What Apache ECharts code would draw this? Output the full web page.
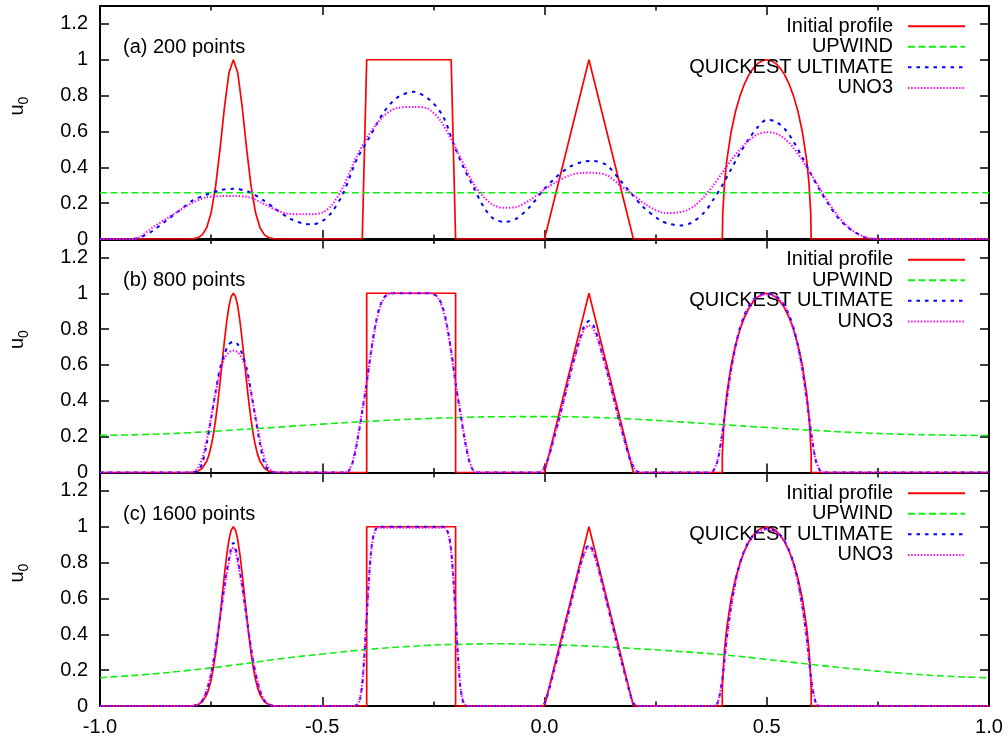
<!DOCTYPE html>
<html><head><meta charset="utf-8">
<script src="https://cdn.jsdelivr.net/npm/echarts@6/dist/echarts.min.js"></script>
<style>html,body{margin:0;padding:0;background:#fff}#c{width:1007px;height:740px}</style>
</head><body><div id="c"></div>
<script>
// ---------------- data ----------------
const seriesNames = ['Initial profile', 'UPWIND', 'QUICKEST ULTIMATE', 'UNO3'];
const panelLabels = ['(a) 200 points', '(b) 800 points', '(c) 1600 points'];
const xTickValues = [-1, -0.5, 0, 0.5, 1];
const yTickValues = [0, 0.2, 0.4, 0.6, 0.8, 1, 1.2];

// initial profile, as drawn on the 200-point grid
const initCoarse = [[-1,0],[-0.8,0],[-0.79,0.002],[-0.78,0.007],[-0.77,0.023],[-0.76,0.063],[-0.75,0.146],[-0.74,0.292],[-0.73,0.5],[-0.72,0.735],[-0.71,0.926],[-0.7,1],[-0.69,0.926],[-0.68,0.735],[-0.67,0.5],[-0.66,0.292],[-0.65,0.146],[-0.64,0.063],[-0.63,0.023],[-0.62,0.007],[-0.61,0.002],[-0.6,0],
 [-0.41,0],[-0.4,1],[-0.21,1],[-0.2,0],[0,0],[0.1,1],[0.2,0],
 [0.4,0],[0.401,0.141],[0.405,0.312],[0.41,0.436],[0.42,0.6],[0.43,0.714],[0.44,0.8],[0.45,0.866],[0.46,0.917],[0.47,0.954],[0.48,0.98],[0.49,0.995],[0.5,1],[0.51,0.995],[0.52,0.98],[0.53,0.954],[0.54,0.917],[0.55,0.866],[0.56,0.8],[0.57,0.714],[0.58,0.6],[0.59,0.436],[0.595,0.312],[0.599,0.141],[0.6,0],[1,0]];

// initial profile, fine grid
const initFine = [[-1,0],[-0.8,0],[-0.79,0.002],[-0.78,0.007],[-0.77,0.023],[-0.76,0.063],[-0.755,0.097],[-0.75,0.146],[-0.745,0.21],[-0.74,0.292],[-0.735,0.389],[-0.73,0.5],[-0.725,0.618],[-0.72,0.735],[-0.715,0.841],[-0.71,0.926],[-0.705,0.981],[-0.7,1],[-0.695,0.981],[-0.69,0.926],[-0.685,0.841],[-0.68,0.735],[-0.675,0.618],[-0.67,0.5],[-0.665,0.389],[-0.66,0.292],[-0.655,0.21],[-0.65,0.146],[-0.645,0.097],[-0.64,0.063],[-0.63,0.023],[-0.62,0.007],[-0.61,0.002],[-0.6,0],
 [-0.4,0],[-0.4,1],[-0.2,1],[-0.2,0],[0,0],[0.1,1],[0.2,0],
 [0.4,0],[0.4,0.1],[0.401,0.141],[0.403,0.243],[0.405,0.312],[0.41,0.436],[0.42,0.6],[0.43,0.714],[0.44,0.8],[0.45,0.866],[0.46,0.917],[0.47,0.954],[0.48,0.98],[0.49,0.995],[0.5,1],[0.51,0.995],[0.52,0.98],[0.53,0.954],[0.54,0.917],[0.55,0.866],[0.56,0.8],[0.57,0.714],[0.58,0.6],[0.59,0.436],[0.595,0.312],[0.597,0.243],[0.599,0.141],[0.6,0.1],[0.6,0],[1,0]];

// (a) 200 points
const upwind200 = [[-1,0.258],[0,0.258],[1,0.258]];
const quick200 = [[-1,0],[-0.93,0],[-0.91,0.008],[-0.88,0.048],[-0.85,0.105],[-0.82,0.161],[-0.79,0.217],[-0.76,0.248],[-0.73,0.272],[-0.70,0.280],[-0.665,0.263],[-0.633,0.217],[-0.603,0.164],[-0.573,0.114],[-0.543,0.086],[-0.52,0.082],[-0.497,0.105],[-0.478,0.151],[-0.453,0.254],[-0.423,0.44],[-0.393,0.571],[-0.363,0.702],[-0.333,0.786],[-0.295,0.821],[-0.258,0.776],[-0.228,0.683],[-0.205,0.534],[-0.183,0.403],[-0.16,0.291],[-0.137,0.179],[-0.115,0.114],[-0.089,0.095],[-0.063,0.114],[-0.033,0.179],[-0.003,0.272],[0.027,0.347],[0.057,0.403],[0.087,0.431],[0.11,0.435],[0.14,0.412],[0.17,0.328],[0.192,0.263],[0.222,0.179],[0.26,0.105],[0.28,0.085],[0.305,0.076],[0.33,0.09],[0.36,0.15],[0.38,0.22],[0.40,0.30],[0.42,0.39],[0.44,0.48],[0.46,0.56],[0.48,0.625],[0.50,0.665],[0.52,0.655],[0.54,0.615],[0.56,0.545],[0.58,0.455],[0.60,0.36],[0.62,0.27],[0.64,0.19],[0.66,0.12],[0.68,0.07],[0.70,0.035],[0.72,0.01],[0.74,0],[1,0]];
const uno200 = [[-1,0],[-0.93,0],[-0.913,0.008],[-0.88,0.067],[-0.85,0.114],[-0.82,0.161],[-0.79,0.205],[-0.76,0.233],[-0.73,0.239],[-0.70,0.24],[-0.663,0.232],[-0.633,0.198],[-0.603,0.161],[-0.58,0.142],[-0.543,0.138],[-0.52,0.138],[-0.497,0.151],[-0.478,0.19],[-0.453,0.291],[-0.423,0.459],[-0.393,0.59],[-0.363,0.683],[-0.333,0.73],[-0.295,0.737],[-0.265,0.73],[-0.235,0.664],[-0.205,0.534],[-0.183,0.422],[-0.16,0.31],[-0.137,0.235],[-0.115,0.189],[-0.089,0.174],[-0.063,0.179],[-0.033,0.217],[-0.003,0.272],[0.027,0.319],[0.057,0.356],[0.087,0.369],[0.11,0.369],[0.14,0.356],[0.17,0.30],[0.20,0.245],[0.23,0.189],[0.26,0.151],[0.28,0.145],[0.30,0.148],[0.32,0.16],[0.34,0.19],[0.36,0.24],[0.38,0.30],[0.40,0.37],[0.42,0.44],[0.44,0.50],[0.46,0.55],[0.48,0.585],[0.50,0.595],[0.52,0.59],[0.54,0.56],[0.56,0.51],[0.58,0.44],[0.60,0.36],[0.62,0.28],[0.64,0.20],[0.66,0.13],[0.68,0.075],[0.70,0.035],[0.72,0.012],[0.74,0.002],[0.76,0],[1,0]];

// (b) 800 points
const upwind800 = [[-1,0.207],[-0.9,0.212],[-0.8,0.222],[-0.7,0.237],[-0.6,0.253],[-0.5,0.27],[-0.4,0.285],[-0.3,0.297],[-0.2,0.306],[-0.1,0.311],[0,0.312],[0.1,0.308],[0.2,0.298],[0.3,0.283],[0.4,0.267],[0.5,0.251],[0.6,0.236],[0.7,0.223],[0.8,0.214],[0.9,0.209],[1,0.206]];
const quick800 = [[-1,0],[-0.8,0],[-0.785,0.003],[-0.78,0.01],[-0.77,0.05],[-0.76,0.16],[-0.75,0.30],[-0.74,0.45],[-0.73,0.58],[-0.72,0.66],[-0.71,0.715],[-0.70,0.73],[-0.69,0.715],[-0.68,0.66],[-0.67,0.58],[-0.66,0.45],[-0.65,0.30],[-0.64,0.16],[-0.63,0.05],[-0.62,0.01],[-0.615,0.003],[-0.6,0],
 [-0.45,0],[-0.44,0.01],[-0.43,0.07],[-0.42,0.19],[-0.41,0.34],[-0.40,0.5],[-0.39,0.68],[-0.38,0.83],[-0.37,0.93],[-0.36,0.98],[-0.35,0.995],[-0.34,1.0],[-0.26,1.0],[-0.25,0.995],[-0.24,0.98],[-0.23,0.93],[-0.22,0.83],[-0.21,0.68],[-0.20,0.5],[-0.19,0.34],[-0.18,0.19],[-0.17,0.07],[-0.16,0.01],[-0.15,0],
 [-0.015,0],[-0.005,0.01],[0.0,0.03],[0.01,0.09],[0.02,0.18],[0.03,0.27],[0.04,0.37],[0.05,0.47],[0.06,0.57],[0.07,0.66],[0.08,0.75],[0.09,0.82],[0.10,0.845],[0.11,0.82],[0.12,0.75],[0.13,0.66],[0.14,0.57],[0.15,0.47],[0.16,0.37],[0.17,0.27],[0.18,0.18],[0.19,0.09],[0.20,0.03],[0.205,0.01],[0.215,0],
 [0.37,0],[0.38,0.01],[0.39,0.07],[0.40,0.22],[0.41,0.41],[0.42,0.58],[0.43,0.71],[0.44,0.81],[0.45,0.88],[0.46,0.93],[0.47,0.965],[0.48,0.985],[0.49,0.995],[0.50,1.0],[0.51,0.995],[0.52,0.985],[0.53,0.965],[0.54,0.93],[0.55,0.88],[0.56,0.81],[0.57,0.71],[0.58,0.58],[0.59,0.41],[0.60,0.22],[0.61,0.07],[0.62,0.01],[0.63,0],[1,0]];
const uno800 = [[-1,0],[-0.8,0],[-0.79,0.005],[-0.78,0.025],[-0.77,0.08],[-0.76,0.18],[-0.75,0.31],[-0.74,0.44],[-0.73,0.56],[-0.72,0.635],[-0.71,0.67],[-0.70,0.68],[-0.69,0.67],[-0.68,0.635],[-0.67,0.56],[-0.66,0.44],[-0.65,0.31],[-0.64,0.18],[-0.63,0.08],[-0.62,0.025],[-0.61,0.005],[-0.6,0],
 [-0.45,0],[-0.44,0.012],[-0.43,0.075],[-0.42,0.2],[-0.41,0.35],[-0.40,0.5],[-0.39,0.67],[-0.38,0.82],[-0.37,0.92],[-0.36,0.975],[-0.35,0.995],[-0.34,1.0],[-0.26,1.0],[-0.25,0.995],[-0.24,0.975],[-0.23,0.92],[-0.22,0.82],[-0.21,0.67],[-0.20,0.5],[-0.19,0.35],[-0.18,0.2],[-0.17,0.075],[-0.16,0.012],[-0.15,0],
 [-0.015,0],[-0.005,0.012],[0.0,0.035],[0.01,0.095],[0.02,0.18],[0.03,0.27],[0.04,0.37],[0.05,0.47],[0.06,0.57],[0.07,0.66],[0.08,0.74],[0.09,0.80],[0.10,0.82],[0.11,0.80],[0.12,0.74],[0.13,0.66],[0.14,0.57],[0.15,0.47],[0.16,0.37],[0.17,0.27],[0.18,0.18],[0.19,0.095],[0.20,0.035],[0.205,0.012],[0.215,0],
 [0.37,0],[0.38,0.012],[0.39,0.075],[0.40,0.22],[0.41,0.40],[0.42,0.57],[0.43,0.70],[0.44,0.80],[0.45,0.875],[0.46,0.925],[0.47,0.96],[0.48,0.98],[0.49,0.99],[0.50,0.995],[0.51,0.99],[0.52,0.98],[0.53,0.96],[0.54,0.925],[0.55,0.875],[0.56,0.80],[0.57,0.70],[0.58,0.57],[0.59,0.40],[0.60,0.22],[0.61,0.075],[0.62,0.012],[0.63,0],[1,0]];

// (c) 1600 points
const upwind1600 = [[-1,0.158],[-0.9,0.175],[-0.8,0.199],[-0.7,0.228],[-0.6,0.262],[-0.5,0.29],[-0.4,0.315],[-0.3,0.333],[-0.2,0.344],[-0.1,0.347],[0,0.342],[0.1,0.334],[0.2,0.321],[0.3,0.305],[0.4,0.286],[0.5,0.26],[0.6,0.232],[0.7,0.206],[0.8,0.184],[0.9,0.167],[1,0.158]];
const quick1600 = [[-1,0],[-0.79,0],[-0.78,0.008],[-0.77,0.03],[-0.76,0.085],[-0.75,0.18],[-0.74,0.32],[-0.73,0.49],[-0.72,0.67],[-0.71,0.82],[-0.705,0.88],[-0.70,0.91],[-0.695,0.88],[-0.69,0.82],[-0.68,0.67],[-0.67,0.49],[-0.66,0.32],[-0.65,0.18],[-0.64,0.085],[-0.63,0.03],[-0.62,0.008],[-0.61,0],
 [-0.43,0],[-0.42,0.01],[-0.415,0.04],[-0.41,0.12],[-0.405,0.29],[-0.40,0.5],[-0.395,0.71],[-0.39,0.87],[-0.385,0.95],[-0.38,0.985],[-0.375,1.0],[-0.225,1.0],[-0.22,0.985],[-0.215,0.95],[-0.21,0.87],[-0.205,0.71],[-0.20,0.5],[-0.195,0.29],[-0.19,0.12],[-0.185,0.04],[-0.18,0.01],[-0.17,0],
 [-0.01,0],[0.0,0.015],[0.01,0.09],[0.02,0.185],[0.03,0.28],[0.04,0.38],[0.05,0.48],[0.06,0.58],[0.07,0.68],[0.08,0.78],[0.09,0.86],[0.10,0.90],[0.11,0.86],[0.12,0.78],[0.13,0.68],[0.14,0.58],[0.15,0.48],[0.16,0.38],[0.17,0.28],[0.18,0.185],[0.19,0.09],[0.20,0.015],[0.21,0],
 [0.38,0],[0.39,0.02],[0.40,0.15],[0.41,0.38],[0.42,0.56],[0.43,0.70],[0.44,0.80],[0.45,0.87],[0.46,0.92],[0.47,0.955],[0.48,0.975],[0.49,0.985],[0.50,0.99],[0.51,0.985],[0.52,0.975],[0.53,0.955],[0.54,0.92],[0.55,0.87],[0.56,0.80],[0.57,0.70],[0.58,0.56],[0.59,0.38],[0.60,0.15],[0.61,0.02],[0.62,0],[1,0]];
const uno1600 = [[-1,0],[-0.79,0],[-0.78,0.009],[-0.77,0.032],[-0.76,0.09],[-0.75,0.185],[-0.74,0.325],[-0.73,0.49],[-0.72,0.66],[-0.71,0.80],[-0.705,0.86],[-0.70,0.885],[-0.695,0.86],[-0.69,0.80],[-0.68,0.66],[-0.67,0.49],[-0.66,0.325],[-0.65,0.185],[-0.64,0.09],[-0.63,0.032],[-0.62,0.009],[-0.61,0],
 [-0.43,0],[-0.42,0.012],[-0.415,0.045],[-0.41,0.13],[-0.405,0.3],[-0.40,0.5],[-0.395,0.70],[-0.39,0.86],[-0.385,0.945],[-0.38,0.98],[-0.375,0.995],[-0.225,0.995],[-0.22,0.98],[-0.215,0.945],[-0.21,0.86],[-0.205,0.70],[-0.20,0.5],[-0.195,0.3],[-0.19,0.13],[-0.185,0.045],[-0.18,0.012],[-0.17,0],
 [-0.01,0],[0.0,0.017],[0.01,0.092],[0.02,0.185],[0.03,0.28],[0.04,0.38],[0.05,0.48],[0.06,0.58],[0.07,0.68],[0.08,0.775],[0.09,0.85],[0.10,0.89],[0.11,0.85],[0.12,0.775],[0.13,0.68],[0.14,0.58],[0.15,0.48],[0.16,0.38],[0.17,0.28],[0.18,0.185],[0.19,0.092],[0.20,0.017],[0.21,0],
 [0.38,0],[0.39,0.022],[0.40,0.15],[0.41,0.37],[0.42,0.55],[0.43,0.69],[0.44,0.79],[0.45,0.865],[0.46,0.915],[0.47,0.95],[0.48,0.97],[0.49,0.98],[0.50,0.985],[0.51,0.98],[0.52,0.97],[0.53,0.95],[0.54,0.915],[0.55,0.865],[0.56,0.79],[0.57,0.69],[0.58,0.55],[0.59,0.37],[0.60,0.15],[0.61,0.022],[0.62,0],[1,0]];

// ---------------- chart ----------------
const panels = [
  [initCoarse, upwind200, quick200, uno200],
  [initFine, upwind800, quick800, uno800],
  [initFine, upwind1600, quick1600, uno1600]
];
const FONT = '"Liberation Sans", Arial, sans-serif';
const FS = 20;
const gridTop = [6, 239.5, 473];
const gridH = 233;
const lineStyles = [
  {color: '#ff0000', width: 1.7, type: 'solid'},
  {color: '#11ee11', width: 1.6, type: [7, 3.5]},
  {color: '#0000ff', width: 2, type: [3.5, 5]},
  {color: '#ff00ff', width: 2, type: [1.4, 1.8]}
];
const smoothFlags = [false, true, 0.3, 0.3];

const grids = [], xAxes = [], yAxes = [], series = [], legends = [], graphics = [];
panels.forEach((p, i) => {
  grids.push({left: 100, right: 18, top: gridTop[i], height: gridH, show: false});
  const axLine = {show: true, onZero: false, lineStyle: {color: '#000', width: 2}};
  const tick = {show: true, inside: true, length: 9, lineStyle: {color: '#000', width: 1.5}};
  const minor = {show: true, splitNumber: 2, length: 4.5, lineStyle: {color: '#000', width: 1.5}};
  xAxes.push({type: 'value', gridIndex: i, position: 'bottom', min: -1, max: 1, interval: 0.5,
    axisLine: axLine, axisTick: tick, minorTick: minor, splitLine: {show: false},
    axisLabel: {show: i === 2, margin: 11, color: '#000', fontSize: FS, fontFamily: FONT,
      formatter: v => xTickValues.some(t => Math.abs(t - v) < 1e-9) ? v.toFixed(1) : ''}});
  xAxes.push({type: 'value', gridIndex: i, position: 'top', min: -1, max: 1, interval: 0.5,
    axisLine: axLine, axisTick: tick, minorTick: minor, splitLine: {show: false}, axisLabel: {show: false}});
  yAxes.push({type: 'value', gridIndex: i, position: 'left', min: 0, max: 1.3, interval: 0.2,
    axisLine: axLine, axisTick: tick, splitLine: {show: false},
    axisLabel: {margin: 12, color: '#000', fontSize: FS, fontFamily: FONT,
      formatter: v => yTickValues.some(t => Math.abs(t - v) < 1e-9) ? String(+v.toFixed(1)) : ''}});
  yAxes.push({type: 'value', gridIndex: i, position: 'right', min: 0, max: 1.3, interval: 0.2,
    axisLine: axLine, axisTick: tick, splitLine: {show: false}, axisLabel: {show: false}});
  p.forEach((data, k) => {
    series.push({type: 'line', name: seriesNames[k], xAxisIndex: 2 * i, yAxisIndex: 2 * i,
      data: data, showSymbol: false, symbol: 'none', smooth: smoothFlags[k], clip: true,
      lineStyle: lineStyles[k], itemStyle: {color: lineStyles[k].color}, z: 3 + k});
  });
  legends.push({data: seriesNames, orient: 'vertical', right: 36, top: gridTop[i] + 5, align: 'right',
    itemWidth: 57, itemHeight: 12, itemGap: 0.3, selectedMode: false,
    itemStyle: {opacity: 0},
    textStyle: {color: '#000', fontSize: FS, fontFamily: FONT, lineHeight: 20.3, padding: [0, 10, 0, 0]}});
  graphics.push({type: 'text', left: 123, top: gridTop[i] + 31,
    style: {text: panelLabels[i], fill: '#000', font: `${FS}px ${FONT}`}});
  const off = gridTop[i] - 6;
  graphics.push({type: 'text', x: 17, y: 110 + off, rotation: Math.PI / 2,
    style: {text: 'u', fill: '#000', font: `${FS}px ${FONT}`, align: 'center', verticalAlign: 'middle'}});
  graphics.push({type: 'text', x: 24, y: 100.5 + off, rotation: Math.PI / 2,
    style: {text: '0', fill: '#000', font: `14px ${FONT}`, align: 'center', verticalAlign: 'middle'}});
});

const chart = echarts.init(document.getElementById('c'), null, {renderer: 'canvas'});
chart.setOption({
  animation: false, backgroundColor: '#fff',
  grid: grids, xAxis: xAxes, yAxis: yAxes, series: series, legend: legends, graphic: graphics
});
</script></body></html>
